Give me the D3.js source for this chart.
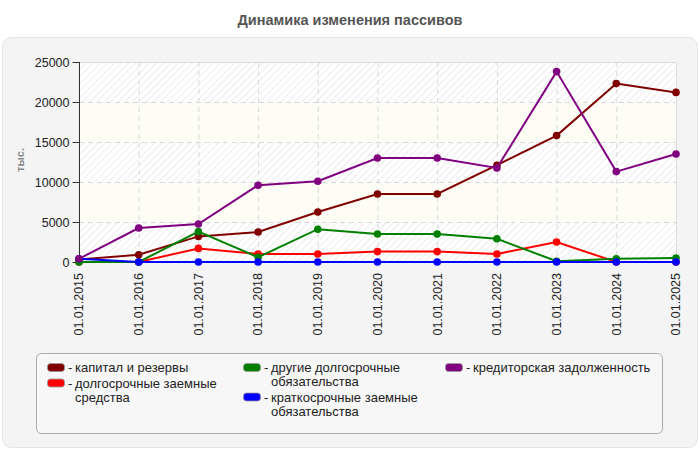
<!DOCTYPE html>
<html>
<head>
<meta charset="utf-8">
<script src="https://cdn.jsdelivr.net/npm/d3@7.9.0/dist/d3.min.js"></script>
<style>
  body { margin: 0; background: #fff; }
  svg { display: block; font-family: "Liberation Sans", Arial, sans-serif; }
</style>
</head>
<body>
<svg id="chart" width="700" height="450"></svg>
<script>
// Dates on the x axis
const dates = ["01.01.2015", "01.01.2016", "01.01.2017", "01.01.2018", "01.01.2019",
  "01.01.2020", "01.01.2021", "01.01.2022", "01.01.2023", "01.01.2024", "01.01.2025"];

// Series values, thousands
const kapital = [300, 900, 3200, 3750, 6250, 8500, 8500, 12100, 15800, 22300, 21200];
const dolgZaem = [0, 0, 1700, 1000, 1000, 1300, 1300, 1000, 2500, 0, 0];
const drugieDolg = [0, 0, 3800, 600, 4100, 3500, 3500, 2900, 100, 400, 500];
const kratkZaem = [400, 0, 0, 0, 0, 0, 0, 0, 0, 0, 0];
const kreditor = [400, 4250, 4750, 9600, 10100, 13000, 13000, 11750, 23800, 11300, 13500];

const seriesNames = ["капитал и резервы", "долгосрочные заемные средства",
  "другие долгосрочные обязательства", "краткосрочные заемные обязательства",
  "кредиторская задолженность"];
const seriesColors = ["#800000", "#ff0000", "#008000", "#0000ff", "#800080"];
const seriesValues = [kapital, dolgZaem, drugieDolg, kratkZaem, kreditor];

const yTicks = [0, 5000, 10000, 15000, 20000, 25000];

const svg = d3.select("#chart");

// Outer panel
svg.append("rect")
  .attr("x", 2.5).attr("y", 37.5).attr("width", 695).attr("height", 410)
  .attr("rx", 9).attr("fill", "#f4f4f4").attr("stroke", "#e4e4e4");

// Title
svg.append("text")
  .attr("x", 350).attr("y", 25)
  .attr("text-anchor", "middle")
  .attr("font-size", 14.5).attr("font-weight", "bold").attr("fill", "#555")
  .text("Динамика изменения пассивов");

const plot = { left: 79, right: 676, top: 62, bottom: 262 };

const x = d3.scalePoint().domain(dates).range([plot.left, plot.right]);
const y = d3.scaleLinear().domain([0, 25000]).range([plot.bottom, plot.top]);

// Hatch pattern for alternating bands
const defs = svg.append("defs");
const pat = defs.append("pattern")
  .attr("id", "hatch").attr("patternUnits", "userSpaceOnUse")
  .attr("width", 5).attr("height", 5)
  .attr("patternTransform", "rotate(45)");
pat.append("rect").attr("width", 5).attr("height", 5).attr("fill", "#fff");
pat.append("line").attr("x1", 0).attr("y1", 0).attr("x2", 0).attr("y2", 5)
  .attr("stroke", "#e2e2e2").attr("stroke-width", 1.3);

// Background bands
d3.range(yTicks.length - 1).forEach(i => {
  svg.append("rect")
    .attr("x", plot.left).attr("width", plot.right - plot.left)
    .attr("y", y(yTicks[i + 1])).attr("height", y(yTicks[i]) - y(yTicks[i + 1]))
    .attr("fill", i % 2 === 0 ? "url(#hatch)" : "#fdfdf6");
});

// Plot border
svg.append("rect")
  .attr("x", plot.left).attr("y", plot.top + 0.5)
  .attr("width", plot.right - plot.left + 0.5).attr("height", plot.bottom - plot.top)
  .attr("fill", "none").attr("stroke", "#dcdcdc");

// Grid lines
svg.append("g").selectAll("line").data(yTicks.slice(1, -1)).join("line")
  .attr("x1", plot.left).attr("x2", plot.right)
  .attr("y1", d => y(d) + 0.5).attr("y2", d => y(d) + 0.5)
  .attr("stroke", "#d8d8d8").attr("stroke-dasharray", "5,4");
svg.append("g").selectAll("line").data(dates.slice(1, -1)).join("line")
  .attr("x1", d => x(d) + 0.5).attr("x2", d => x(d) + 0.5)
  .attr("y1", plot.top).attr("y2", plot.bottom)
  .attr("stroke", "#d8d8d8").attr("stroke-dasharray", "5,4");

// Y axis
const yAxis = svg.append("g")
  .attr("transform", `translate(${plot.left + 0.5},0)`)
  .call(d3.axisLeft(y).tickValues(yTicks).tickSize(7).tickPadding(3).tickFormat(d3.format("d")));
yAxis.select(".domain").attr("stroke", "#333").attr("d", `M0,${plot.top}V${plot.bottom}`);
yAxis.selectAll(".tick line").attr("stroke", "#333");
yAxis.selectAll("text").attr("font-size", 12.5).attr("fill", "#222")
  .attr("font-family", "\"Liberation Sans\", Arial, sans-serif");

// Y label
svg.append("text")
  .attr("transform", "translate(24,160) rotate(-90)")
  .attr("text-anchor", "middle")
  .attr("font-size", 11).attr("font-weight", "bold").attr("fill", "#888")
  .text("тыс.");

// X labels
svg.append("g").selectAll("text").data(dates).join("text")
  .attr("transform", d => `translate(${x(d)},273) rotate(-90)`)
  .attr("text-anchor", "end").attr("dy", "0.35em")
  .attr("font-size", 12.5).attr("fill", "#222")
  .text(d => d);

// Lines and markers
const line = d3.line().x((d, i) => x(dates[i])).y(d => y(d));
seriesValues.forEach((vals, s) => {
  const g = svg.append("g");
  g.append("path").attr("d", line(vals))
    .attr("fill", "none").attr("stroke", seriesColors[s]).attr("stroke-width", 2);
  g.selectAll("circle").data(vals).join("circle")
    .attr("cx", (d, i) => x(dates[i])).attr("cy", d => y(d))
    .attr("r", 3.8).attr("fill", seriesColors[s]);
});

// Legend
svg.append("rect")
  .attr("x", 36.5).attr("y", 353.5).attr("width", 626).attr("height", 80)
  .attr("rx", 5).attr("fill", "#f7f7f7").attr("stroke", "#aaa");

const legendCols = [
  { x: 47, width: 165, items: [0, 1] },
  { x: 243, width: 165, items: [2, 3] },
  { x: 445, width: 200, items: [4] }
];
const lineH = 14;
const legendFont = 13;

legendCols.forEach(col => {
  let cy = 367.5;
  col.items.forEach(idx => {
    svg.append("rect")
      .attr("x", col.x + 0.5).attr("y", cy - 4).attr("width", 17).attr("height", 8)
      .attr("rx", 3).attr("fill", seriesColors[idx]).attr("stroke", "#999").attr("stroke-width", 0.8);
    svg.append("text")
      .attr("x", col.x + 21).attr("y", cy).attr("dy", "0.35em")
      .attr("font-size", legendFont).attr("fill", "#222").text("-");
    // wrap text into lines
    const words = seriesNames[idx].split(" ");
    const t = svg.append("text").attr("font-size", legendFont).attr("fill", "#222");
    let lines = [];
    let cur = [];
    words.forEach(w => {
      const test = cur.concat(w).join(" ");
      t.text(test);
      if (t.node().getComputedTextLength() > col.width && cur.length) {
        lines.push(cur.join(" "));
        cur = [w];
      } else {
        cur.push(w);
      }
    });
    lines.push(cur.join(" "));
    t.text(null);
    lines.forEach((ln, k) => {
      t.append("tspan").attr("x", col.x + 28).attr("y", cy + k * lineH)
        .attr("dy", "0.35em").text(ln);
    });
    cy += lines.length * lineH + 1.5;
  });
});
</script>
</body>
</html>
